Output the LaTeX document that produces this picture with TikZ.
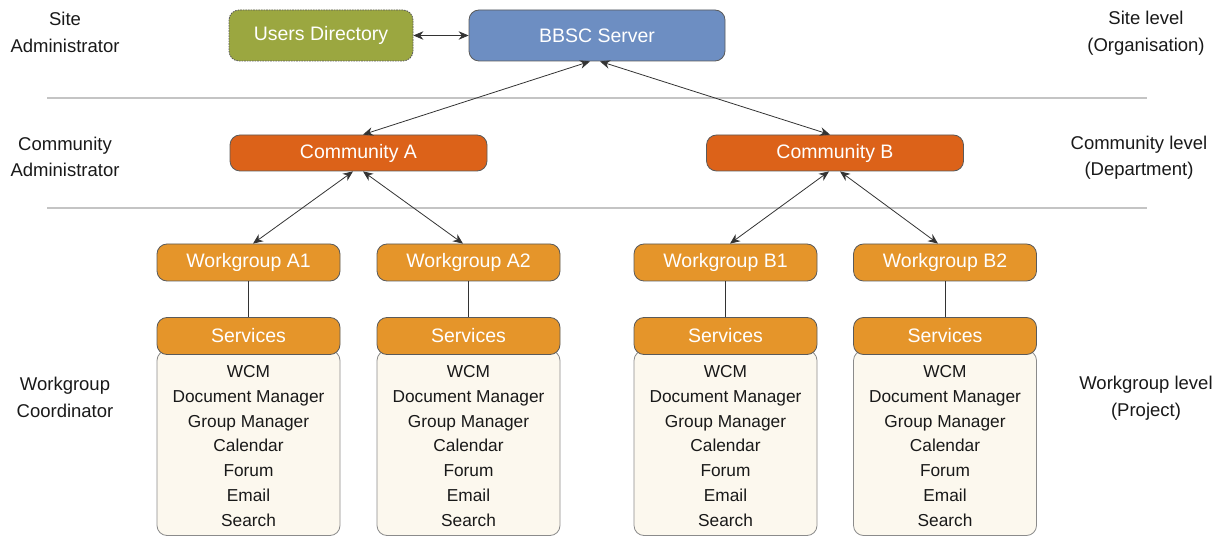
\documentclass[tikz,border=0pt]{standalone}
\usepackage{fontspec}
\setmainfont{Liberation Sans}
\usetikzlibrary{arrows.meta,calc}
\definecolor{udfill}{HTML}{9BA740}
\definecolor{srvfill}{HTML}{6D8EC2}
\definecolor{comfill}{HTML}{DC6219}
\definecolor{wgfill}{HTML}{E5952A}
\definecolor{listfill}{HTML}{FCF8EE}
\definecolor{boxline}{HTML}{5A5A5A}
\definecolor{sepline}{HTML}{C4C4C4}
\definecolor{arr}{HTML}{333333}
\begin{document}
\begin{tikzpicture}[x=1pt,y=-1pt,
  box/.style={rounded corners=10pt, draw=boxline, line width=0.8pt, text=white,
    font=\fontsize{19.5}{21}\selectfont, inner sep=0pt, anchor=center},
  topbox/.style={box, minimum height=51pt},
  combox/.style={box, fill=comfill, minimum width=257pt, minimum height=36pt},
  wgbox/.style={box, fill=wgfill, minimum width=183pt, minimum height=37pt},
  listbox/.style={rounded corners=10pt, draw=boxline!70, line width=0.8pt, fill=listfill,
    minimum width=183pt, minimum height=185pt, inner sep=0pt, anchor=center},
  listtext/.style={font=\fontsize{17.3}{24.7}\selectfont, align=center, text=black!90, inner sep=0pt},
  sidelabel/.style={font=\fontsize{18.5}{26.5}\selectfont, align=center, text=black!90, inner sep=0pt},
  biarrow/.style={draw=arr, line width=0.8pt, {Stealth[length=10pt,width=8.5pt]}-{Stealth[length=10pt,width=8.5pt]}},
  link/.style={draw=arr, line width=0.8pt},
  sep/.style={draw=sepline, line width=1.4pt}
]
\useasboundingbox (0,0) rectangle (1229,537);

% separator lines
\coordinate (s1l) at (47,98);  \coordinate (s1r) at (1147,98);
\coordinate (s2l) at (47,208); \coordinate (s2r) at (1147,208);
\draw[sep] (s1l) -- (s1r);
\draw[sep] (s2l) -- (s2r);

% side labels
\node[sidelabel] (lsite) at (65,32.5) {Site\\Administrator};
\node[sidelabel] (lcom) at (65,157) {Community\\Administrator};
\node[sidelabel] (lwg) at (65,397.5) {Workgroup\\Coordinator};
\node[sidelabel] (rsite) at (1146,33) {Site level\\(Organisation)};
\node[sidelabel] (rcom) at (1139,157.5) {Community level\\(Department)};
\node[sidelabel] (rwg) at (1146,398) {Workgroup level\\(Project)};

% top level
\node[topbox, fill=udfill, minimum width=184pt, dash pattern=on 1.6pt off 1pt] (ud) at (321,35.5) {Users Directory};
\node[topbox, fill=srvfill, minimum width=256pt] (bbsc) at (597,35.5) {BBSC Server};

% community level
\node[combox] (ca) at (358.5,153) {Community A};
\node[combox] (cb) at (835,153) {Community B};

% workgroups
\foreach \n/\x/\t in {a1/248.5/Workgroup A1, a2/468.5/Workgroup A2, b1/725.5/Workgroup B1, b2/945/Workgroup B2}{
  \node[wgbox] (wg\n) at (\x,262.5) {\t};
  \node[listbox] (list\n) at (\x,443) {};
  \node[wgbox] (sv\n) at (\x,336) {Services};
  \node[listtext] (lt\n) at (\x,446) {WCM\\Document Manager\\Group Manager\\Calendar\\Forum\\Email\\Search};
  \draw[link] (wg\n.south) -- (sv\n.north);
}

% arrows
\draw[biarrow] (ud.east) -- (bbsc.west);
\draw[biarrow] ($(bbsc.south)+(-7,0)$) -- ($(ca.north)+(4.5,0)$);
\draw[biarrow] ($(bbsc.south)+(3,0)$) -- ($(cb.north)+(-5,0)$);
\draw[biarrow] ($(ca.south)+(-5.5,0)$) -- ($(wga1.north)+(4.5,0)$);
\draw[biarrow] ($(ca.south)+(4.5,0)$) -- ($(wga2.north)+(-5.5,0)$);
\draw[biarrow] ($(cb.south)+(-6,0)$) -- ($(wgb1.north)+(4.5,0)$);
\draw[biarrow] ($(cb.south)+(5,0)$) -- ($(wgb2.north)+(-7,0)$);
\end{tikzpicture}
\end{document}
